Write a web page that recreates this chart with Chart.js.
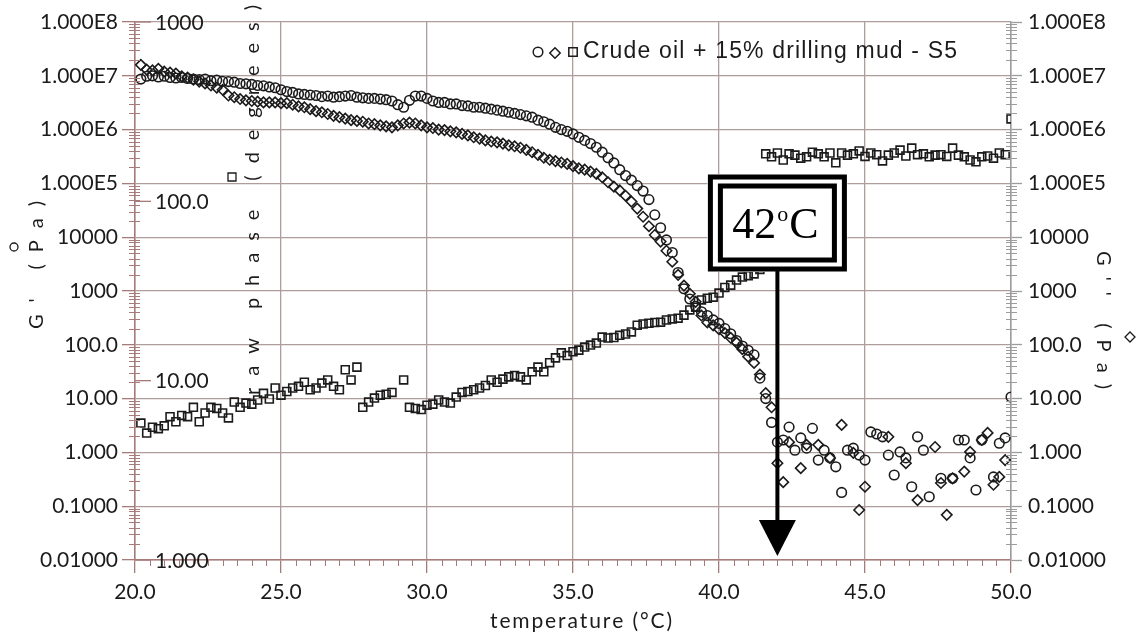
<!DOCTYPE html>
<html>
<head>
<meta charset="utf-8">
<script src="https://cdn.jsdelivr.net/npm/chart.js@4.4.1/dist/chart.umd.min.js"></script>
<style>
  html, body { margin: 0; padding: 0; background: #fff; }
  canvas { display: block; }
</style>
</head>
<body>
<canvas id="c" width="1142" height="637"></canvas>
<script>
// Temperature sweep (°C)
const temperature = [
  20.2,20.4,20.6,20.8,21.0,21.2,21.4,21.6,21.8,22.0,
  22.2,22.4,22.6,22.8,23.0,23.2,23.4,23.6,23.8,24.0,
  24.2,24.4,24.6,24.8,25.0,25.2,25.4,25.6,25.8,26.0,
  26.2,26.4,26.6,26.8,27.0,27.2,27.4,27.6,27.8,28.0,
  28.2,28.4,28.6,28.8,29.0,29.2,29.4,29.6,29.8,30.0,
  30.2,30.4,30.6,30.8,31.0,31.2,31.4,31.6,31.8,32.0,
  32.2,32.4,32.6,32.8,33.0,33.2,33.4,33.6,33.8,34.0,
  34.2,34.4,34.6,34.8,35.0,35.2,35.4,35.6,35.8,36.0,
  36.2,36.4,36.6,36.8,37.0,37.2,37.4,37.6,37.8,38.0,
  38.2,38.4,38.6,38.8,39.0,39.2,39.4,39.6,39.8,40.0,
  40.2,40.4,40.6,40.8,41.0,41.2,41.4,41.6,41.8,42.0,
  42.2,42.4,42.6,42.8,43.0,43.2,43.4,43.6,43.8,44.0,
  44.2,44.4,44.6,44.8,45.0,45.2,45.4,45.6,45.8,46.0,
  46.2,46.4,46.6,46.8,47.0,47.2,47.4,47.6,47.8,48.0,
  48.2,48.4,48.6,48.8,49.0,49.2,49.4,49.6,49.8,50.0
];

// Storage modulus G' (Pa)
const storageModulus = [
  8.7e6,9.8e6,1.0e7,9.5e6,9.8e6,9.3e6,9.1e6,9.3e6,8.9e6,8.7e6,
  8.5e6,8.7e6,8.1e6,8.3e6,7.9e6,7.8e6,7.6e6,7.2e6,7.1e6,6.9e6,
  6.6e6,6.5e6,6.2e6,6.0e6,5.5e6,5.1e6,4.9e6,4.6e6,4.5e6,4.4e6,
  4.3e6,4.1e6,4.2e6,4.0e6,4.1e6,4.2e6,4.3e6,4.0e6,3.9e6,3.8e6,
  3.8e6,3.7e6,3.6e6,3.4e6,2.9e6,2.6e6,3.5e6,4.2e6,4.2e6,3.8e6,
  3.4e6,3.2e6,3.2e6,3.0e6,3.0e6,2.8e6,2.75e6,2.6e6,2.6e6,2.5e6,
  2.4e6,2.3e6,2.2e6,2.1e6,2.0e6,1.9e6,1.8e6,1.7e6,1.5e6,1.4e6,
  1.26e6,1.1e6,1.0e6,9.3e5,8.3e5,7.2e5,6.3e5,5.5e5,4.7e5,3.8e5,
  3.0e5,2.4e5,1.8e5,1.4e5,1.15e5,9.1e4,7.2e4,5.0e4,2.6e4,1.5e4,
  8.9e3,5.2e3,2.2e3,1.1e3,710,520,410,350,290,250,
  200,160,120,95,79,65,24,10,3.6,1.55,
  1.7,2.95,1.1,1.86,1.2,2.8,0.72,1.1,0.79,0.54,
  0.18,1.1,1.2,0.89,0.72,2.4,2.2,1.95,0.89,0.38,
  1.02,0.79,0.23,1.95,1.1,0.15,null,0.33,null,0.33,
  1.7,1.7,0.79,0.2,1.7,null,0.35,1.48,1.86,10.7
];

// Loss modulus G'' (Pa)
const lossModulus = [
  1.6e7,1.3e7,1.26e7,1.35e7,1.2e7,1.15e7,1.1e7,9.8e6,9.3e6,8.5e6,
  7.8e6,7.2e6,6.6e6,6.0e6,5.5e6,4.3e6,4.0e6,3.7e6,3.5e6,3.4e6,
  3.3e6,3.2e6,3.2e6,3.2e6,3.1e6,3.1e6,2.9e6,2.7e6,2.6e6,2.4e6,
  2.2e6,2.1e6,1.95e6,1.8e6,1.7e6,1.6e6,1.5e6,1.45e6,1.4e6,1.3e6,
  1.26e6,1.2e6,1.15e6,1.1e6,1.2e6,1.3e6,1.35e6,1.3e6,1.2e6,1.1e6,
  1.07e6,1.0e6,9.8e5,9.3e5,8.9e5,8.3e5,7.8e5,7.2e5,6.8e5,6.3e5,
  6.0e5,5.8e5,5.5e5,5.1e5,4.9e5,4.6e5,4.2e5,3.8e5,3.4e5,3.0e5,
  2.75e5,2.6e5,2.45e5,2.3e5,2.1e5,1.9e5,1.8e5,1.66e5,1.5e5,1.3e5,
  1.05e5,8.7e4,7.4e4,5.9e4,4.6e4,3.4e4,2.4e4,1.6e4,1.1e4,8.3e3,
  5.6e3,3.5e3,2.0e3,1.26e3,890,630,350,260,230,195,
  166,135,110,83,60,46,28,12.6,6.9,0.63,
  0.28,1.55,null,0.51,1.38,null,1.38,null,0.79,null,
  3.24,null,0.98,0.085,0.23,null,null,null,1.95,null,
  null,0.63,null,0.13,null,null,1.26,0.27,0.069,0.33,
  null,0.44,1.02,null,1.7,2.3,0.25,0.35,0.72,null
];

// Raw phase (degrees)
const phaseAngle = [
  5.8,5.1,5.5,5.4,5.6,6.3,5.9,6.4,6.3,7.1,
  5.9,6.6,7.1,7.0,6.6,6.2,7.6,7.1,7.5,7.4,
  7.8,8.5,7.9,9.1,8.3,8.7,9.1,9.3,9.8,8.9,
  9.1,9.7,10.1,9.3,8.9,11.5,10.1,11.9,7.1,7.6,
  8.0,8.3,8.4,8.6,null,10.1,7.1,7.0,6.9,7.3,
  7.4,7.8,7.6,7.5,8.1,8.6,8.7,8.9,9.1,9.4,
  10.1,9.8,10.2,10.5,10.7,10.5,10.1,11.2,11.9,11.2,
  12.6,13.4,14.3,13.8,14.5,14.8,15.4,15.8,16.2,17.5,
  17.3,17.4,17.9,18.2,18.7,20.4,20.7,20.9,21.1,21.2,
  21.8,22.1,22.3,23.2,24.8,25.7,28.2,28.8,29.2,30.8,
  33.1,34.1,36.4,37.8,38.5,39.4,41.7,184,177,186,
  170,184,181,174,177,188,184,177,186,164,
  186,181,184,191,178,186,182,168,181,186,
  193,179,198,182,184,177,181,182,178,198,
  181,177,170,166,177,179,174,186,182,288
];

// Axis ticks and labels
const xTickValues = [20, 25, 30, 35, 40, 45, 50];
const xTickLabels = ['20.0', '25.0', '30.0', '35.0', '40.0', '45.0', '50.0'];
const modulusTickValues = [0.01, 0.1, 1, 10, 100, 1000, 1e4, 1e5, 1e6, 1e7, 1e8];
const modulusTickLabels = ['0.01000', '0.1000', '1.000', '10.00', '100.0', '1000', '10000',
                           '1.000E5', '1.000E6', '1.000E7', '1.000E8'];
const phaseTickValues = [1, 10, 100, 1000];
const phaseTickLabels = ['1.000', '10.00', '100.0', '1000'];

const transitionTemp = 42;
const transitionText = ['42', 'o', 'C'];
const legendText = 'Crude oil + 15% drilling mud - S5';

const INK = '#1b1b1b';
const GRID = '#ae9d9b';
const AXIS_L = '#a67b79';
const AXIS_R = '#9c9c9c';
const TICK_FONT = { family: 'Lato', size: 21 };

function points(values) {
  return temperature
    .map((t, i) => ({ x: t, y: values[i] }))
    .filter(p => p.y !== null);
}

function makeSet(label, values, axis, style, radius) {
  return {
    label,
    data: points(values),
    yAxisID: axis,
    showLine: false,
    pointStyle: style,
    pointRadius: radius,
    pointBorderWidth: 1.6,
    pointBorderColor: INK,
    pointBackgroundColor: 'rgba(0,0,0,0)'
  };
}

// Draws a string with its letters spread evenly along a given length
function spacedText(ctx, text, cx, cy, angle, span) {
  const chars = Array.from(text);
  const widths = chars.map(ch => ctx.measureText(ch).width);
  const natural = widths.reduce((a, b) => a + b, 0);
  const gap = chars.length > 1 ? (span - natural) / (chars.length - 1) : 0;
  ctx.save();
  ctx.translate(cx, cy);
  ctx.rotate(angle);
  ctx.textAlign = 'left';
  ctx.textBaseline = 'middle';
  let pos = -span / 2;
  chars.forEach((ch, i) => { ctx.fillText(ch, pos, 0); pos += widths[i] + gap; });
  ctx.restore();
}

function marker(ctx, style, x, y, r) {
  ctx.beginPath();
  if (style === 'circle') ctx.arc(x, y, r, 0, Math.PI * 2);
  if (style === 'diamond') { ctx.moveTo(x, y - r); ctx.lineTo(x + r, y); ctx.lineTo(x, y + r); ctx.lineTo(x - r, y); ctx.closePath(); }
  if (style === 'square') ctx.rect(x - r, y - r, 2 * r, 2 * r);
  ctx.stroke();
}

const decorations = {
  id: 'decorations',
  beforeDraw(chart) {
    const ctx = chart.ctx;
    ctx.save();
    ctx.fillStyle = '#fff';
    ctx.fillRect(0, 0, chart.width, chart.height);
    ctx.restore();
  },
  beforeDatasetsDraw(chart) {
    const ctx = chart.ctx;
    ctx.save();
    ctx.fillStyle = INK;
    ctx.font = '20px Lato';
    spacedText(ctx, 'raw phase (degrees)', 253, 200, -Math.PI / 2, 390);
    ctx.restore();
  },
  afterDatasetsDraw(chart) {
    const ctx = chart.ctx;
    const area = chart.chartArea;
    const xs = chart.scales.x, yl = chart.scales.yLeft, yp = chart.scales.yPhase;
    ctx.save();

    // minor ticks on the modulus axes
    ctx.lineWidth = 1;
    for (let e = -2; e < 8; e++) {
      for (let k = 2; k <= 9; k++) {
        const y = Math.round(yl.getPixelForValue(k * Math.pow(10, e))) + 0.5;
        ctx.strokeStyle = AXIS_L;
        ctx.beginPath(); ctx.moveTo(area.left - 6, y); ctx.lineTo(area.left + 5, y); ctx.stroke();
        ctx.strokeStyle = AXIS_R;
        ctx.beginPath(); ctx.moveTo(area.right - 5, y); ctx.lineTo(area.right + 6, y); ctx.stroke();
      }
    }
    // minor ticks on the temperature axis
    ctx.strokeStyle = AXIS_L;
    for (let t = 20.5; t < 50; t += 0.5) {
      if (Math.abs(t / 5 - Math.round(t / 5)) < 1e-6) continue;
      const x = Math.round(xs.getPixelForValue(t)) + 0.5;
      ctx.beginPath(); ctx.moveTo(x, area.bottom); ctx.lineTo(x, area.bottom + 6); ctx.stroke();
    }

    // raw phase axis, drawn inside the plot on the left
    ctx.fillStyle = INK;
    ctx.font = '21px Lato';
    ctx.textAlign = 'left';
    ctx.textBaseline = 'middle';
    ctx.strokeStyle = AXIS_L;
    ctx.lineWidth = 1.3;
    phaseTickValues.forEach((v, i) => {
      const y = yp.getPixelForValue(v);
      ctx.beginPath(); ctx.moveTo(area.left, y); ctx.lineTo(area.left + 16, y); ctx.stroke();
      ctx.fillText(phaseTickLabels[i], area.left + 20, y + 1);
    });

    // axis titles
    ctx.strokeStyle = INK;
    ctx.lineWidth = 1.3;
    ctx.font = '20px Lato';
    spacedText(ctx, "G' (Pa)", 37, 265, -Math.PI / 2, 128);
    marker(ctx, 'circle', 14, 247, 4);
    spacedText(ctx, "G'' (Pa)", 1103, 320, Math.PI / 2, 138);
    marker(ctx, 'diamond', 1130, 337, 5);
    marker(ctx, 'square', 232, 177, 4);
    ctx.font = '21px Lato';
    spacedText(ctx, 'temperature (°C)', 581, 621, 0, 182);

    // legend
    ctx.lineWidth = 1.5;
    marker(ctx, 'circle', 538, 52, 4.8);
    marker(ctx, 'diamond', 555, 53, 5.2);
    marker(ctx, 'square', 573, 52, 4.2);
    ctx.font = '23px "Liberation Sans"';
    spacedText(ctx, legendText, 770, 52, 0, 374);

    // transition marker: framed label with an arrow down to the axis
    const cx = xs.getPixelForValue(transitionTemp);
    const top = area.top + 155, bottom = area.top + 247;
    ctx.fillStyle = '#fff';
    ctx.fillRect(cx - 70, top - 3, 140, bottom - top + 6);
    ctx.strokeStyle = '#000';
    ctx.lineWidth = 5;
    ctx.strokeRect(cx - 67, top, 134, bottom - top);
    ctx.strokeRect(cx - 57, top + 9, 114, bottom - top - 18);
    ctx.lineWidth = 4;
    ctx.beginPath(); ctx.moveTo(cx, bottom + 2); ctx.lineTo(cx, area.bottom - 38); ctx.stroke();
    ctx.fillStyle = '#000';
    ctx.beginPath();
    ctx.moveTo(cx - 18.5, area.bottom - 40);
    ctx.lineTo(cx + 18.5, area.bottom - 40);
    ctx.lineTo(cx, area.bottom - 4);
    ctx.closePath(); ctx.fill();

    const big = '44px "Liberation Serif"', small = '22px "Liberation Serif"';
    ctx.font = big; const w1 = ctx.measureText(transitionText[0]).width; const w3 = ctx.measureText(transitionText[2]).width;
    ctx.font = small; const w2 = ctx.measureText(transitionText[1]).width;
    const total = w1 + w2 + w3 + 2;
    let tx = cx - 2 - total / 2;
    const base = top + 61;
    ctx.fillStyle = '#000';
    ctx.textAlign = 'left';
    ctx.textBaseline = 'alphabetic';
    ctx.font = big; ctx.fillText(transitionText[0], tx, base); tx += w1 + 1;
    ctx.font = small; ctx.fillText(transitionText[1], tx, base - 17); tx += w2 + 1;
    ctx.font = big; ctx.fillText(transitionText[2], tx, base);

    ctx.restore();
  }
};

new Chart(document.getElementById('c'), {
  type: 'scatter',
  data: {
    datasets: [
      makeSet("G'", storageModulus, 'yLeft', 'circle', 4.8),
      makeSet("G''", lossModulus, 'yRight', 'rectRot', 5.2),
      makeSet('raw phase', phaseAngle, 'yPhase', 'rect', 5.6)
    ]
  },
  options: {
    responsive: false,
    animation: false,
    devicePixelRatio: 1,
    events: [],
    layout: { padding: { top: 22, left: 0, right: 0, bottom: 0 } },
    plugins: { legend: { display: false }, tooltip: { enabled: false } },
    scales: {
      x: {
        type: 'linear', position: 'bottom', min: 20, max: 50,
        afterBuildTicks: s => { s.ticks = xTickValues.map(v => ({ value: v })); },
        afterFit: s => { s.height = 77; },
        ticks: { callback: (v, i) => xTickLabels[i], font: TICK_FONT, color: INK, padding: 7, maxRotation: 0, autoSkip: false },
        grid: { color: GRID, lineWidth: 1.3, tickLength: 13, tickColor: AXIS_L, tickWidth: 1.3 },
        border: { color: AXIS_L, width: 1.5 }
      },
      yLeft: {
        type: 'logarithmic', position: 'left', min: 0.01, max: 1e8,
        afterBuildTicks: s => { s.ticks = modulusTickValues.map(v => ({ value: v })); },
        afterFit: s => { s.width = 135; },
        ticks: { callback: (v, i) => modulusTickLabels[i], font: TICK_FONT, color: INK, padding: 4, autoSkip: false },
        grid: { color: GRID, lineWidth: 1.3, tickLength: 13, tickColor: AXIS_L, tickWidth: 1.3 },
        border: { color: AXIS_L, width: 1.5 }
      },
      yRight: {
        type: 'logarithmic', position: 'right', min: 0.01, max: 1e8,
        afterBuildTicks: s => { s.ticks = modulusTickValues.map(v => ({ value: v })); },
        afterFit: s => { s.width = 131; },
        ticks: { callback: (v, i) => modulusTickLabels[i], font: TICK_FONT, color: INK, padding: 6, autoSkip: false },
        grid: { drawOnChartArea: false, tickLength: 11, tickColor: AXIS_R, tickWidth: 1.3 },
        border: { color: AXIS_R, width: 1.5 }
      },
      yPhase: {
        type: 'logarithmic', display: false, min: 1, max: 1000
      }
    }
  },
  plugins: [decorations]
});
</script>
</body>
</html>
